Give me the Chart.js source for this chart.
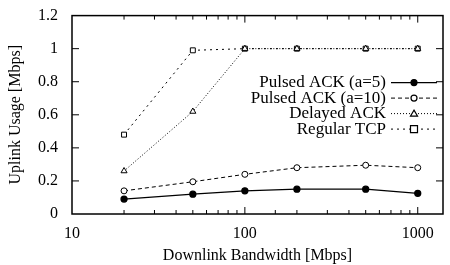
<!DOCTYPE html>
<html>
<head>
<meta charset="utf-8">
<script src="https://cdn.jsdelivr.net/npm/chart.js@4"></script>
<style>
  html, body { margin: 0; padding: 0; background: #fff; }
  #wrap { width: 450px; height: 265px; }
</style>
</head>
<body>
<div id="wrap"><canvas id="uplinkChart"></canvas></div>
<script>
const bandwidth = [20, 50, 100, 200, 500, 1000];
const pulsedA5 = [0.09, 0.12, 0.14, 0.15, 0.15, 0.125];
const pulsedA10 = [0.14, 0.195, 0.24, 0.28, 0.295, 0.28];
const delayedAck = [0.26, 0.62, 1.0, 1.0, 1.0, 1.0];
const regularTcp = [0.48, 0.99, 1.0, 1.0, 1.0, 1.0];
const xLabels = [10, 100, 1000];

const FONT = "'Liberation Serif', 'DejaVu Serif', serif";

const toPoints = (ys) => ys.map((y, i) => ({ x: bandwidth[i], y: y }));

// gnuplot style: frame, inward ticks on all sides, legend text left of sample
const frameAndLegend = {
  id: "frameAndLegend",
  afterDraw(chart) {
    const c = chart.ctx;
    const a = chart.chartArea;
    const xs = chart.scales.x;
    const ys = chart.scales.y;
    c.save();
    c.strokeStyle = "#000";
    c.lineWidth = 1.5;
    c.strokeRect(a.left, a.top, a.right - a.left, a.bottom - a.top);

    c.lineWidth = 1;
    xs.ticks.forEach((t) => {
      const px = xs.getPixelForValue(t.value);
      if (px <= a.left + 1 || px >= a.right - 1) return;
      const major = xLabels.includes(t.value);
      const len = major ? 7 : 4;
      c.beginPath();
      c.moveTo(px, a.bottom); c.lineTo(px, a.bottom - len);
      c.moveTo(px, a.top); c.lineTo(px, a.top + len);
      c.stroke();
    });
    ys.ticks.forEach((t) => {
      const py = ys.getPixelForValue(t.value);
      if (py <= a.top + 1 || py >= a.bottom - 1) return;
      c.beginPath();
      c.moveTo(a.left, py); c.lineTo(a.left + 7, py);
      c.moveTo(a.right, py); c.lineTo(a.right - 7, py);
      c.stroke();
    });

    // legend
    c.font = "17px " + FONT;
    c.fillStyle = "#000";
    c.textAlign = "right";
    c.textBaseline = "middle";
    const textRight = a.right - 57;
    const lineL = a.right - 52;
    const lineR = a.right - 6;
    chart.data.datasets.forEach((ds, i) => {
      const y = a.top + 67 + i * 15.5;
      c.fillText(ds.label, textRight, y);
      c.setLineDash(ds.borderDash || []);
      c.lineWidth = ds.borderWidth;
      c.beginPath();
      c.moveTo(lineL, y); c.lineTo(lineR, y);
      c.stroke();
      c.setLineDash([]);
      const mx = (lineL + lineR) / 2;
      const r = ds.pointRadius;
      c.lineWidth = 1.2;
      c.fillStyle = ds.pointBackgroundColor;
      c.beginPath();
      if (ds.pointStyle === "circle") {
        c.arc(mx, y, r, 0, Math.PI * 2);
      } else if (ds.pointStyle === "triangle") {
        c.moveTo(mx, y - r); c.lineTo(mx + r, y + r * 0.7); c.lineTo(mx - r, y + r * 0.7); c.closePath();
      } else {
        c.rect(mx - r, y - r, 2 * r, 2 * r);
      }
      c.fill();
      c.stroke();
      c.fillStyle = "#000";
    });
    c.restore();
  },
};

new Chart(document.getElementById("uplinkChart"), {
  type: "line",
  data: {
    datasets: [
      {
        label: "Pulsed ACK (a=5)",
        data: toPoints(pulsedA5),
        borderColor: "#000",
        borderWidth: 1.3,
        pointStyle: "circle",
        pointRadius: 3,
        pointBackgroundColor: "#000",
        pointBorderColor: "#000",
      },
      {
        label: "Pulsed ACK (a=10)",
        data: toPoints(pulsedA10),
        borderColor: "#000",
        borderWidth: 1,
        borderDash: [4, 3],
        pointStyle: "circle",
        pointRadius: 3,
        pointBackgroundColor: "#fff",
        pointBorderColor: "#000",
      },
      {
        label: "Delayed ACK",
        data: toPoints(delayedAck),
        borderColor: "#000",
        borderWidth: 1,
        borderDash: [1, 2],
        pointStyle: "triangle",
        pointRadius: 3.5,
        pointBackgroundColor: "#fff",
        pointBorderColor: "#000",
      },
      {
        label: "Regular TCP",
        data: toPoints(regularTcp),
        borderColor: "#000",
        borderWidth: 1,
        borderDash: [2, 4],
        pointStyle: "rect",
        pointRadius: 3.5,
        pointBackgroundColor: "#fff",
        pointBorderColor: "#000",
      },
    ],
  },
  options: {
    responsive: true,
    maintainAspectRatio: false,
    animation: false,
    layout: { padding: { top: 12, right: 7, left: 0, bottom: 0 } },
    elements: { line: { tension: 0 }, point: { borderWidth: 1.2 } },
    plugins: { legend: { display: false }, tooltip: { enabled: false } },
    scales: {
      x: {
        type: "logarithmic",
        min: 10,
        max: 1400,
        grid: { display: false },
        border: { display: false },
        afterFit: (s) => { s.height = 51; },
        ticks: {
          color: "#000",
          font: { family: FONT, size: 16 },
          padding: 2,
          autoSkip: false,
          maxRotation: 0,
          callback: (v) => (xLabels.includes(v) ? String(v) : ""),
        },
        title: {
          display: true,
          text: "Downlink Bandwidth [Mbps]",
          color: "#000",
          font: { family: FONT, size: 16 },
          padding: { top: 2, bottom: 0 },
        },
      },
      y: {
        min: 0,
        max: 1.2,
        grid: { display: false },
        border: { display: false },
        afterFit: (s) => { s.width = 72; },
        ticks: {
          stepSize: 0.2,
          color: "#000",
          font: { family: FONT, size: 16 },
          padding: 6,
          callback: (v) => String(Math.round(v * 10) / 10),
        },
        title: {
          display: true,
          text: "Uplink Usage [Mbps]",
          color: "#000",
          font: { family: FONT, size: 16 },
          padding: { top: 6, bottom: 4 },
        },
      },
    },
  },
  plugins: [frameAndLegend],
});
</script>
</body>
</html>
